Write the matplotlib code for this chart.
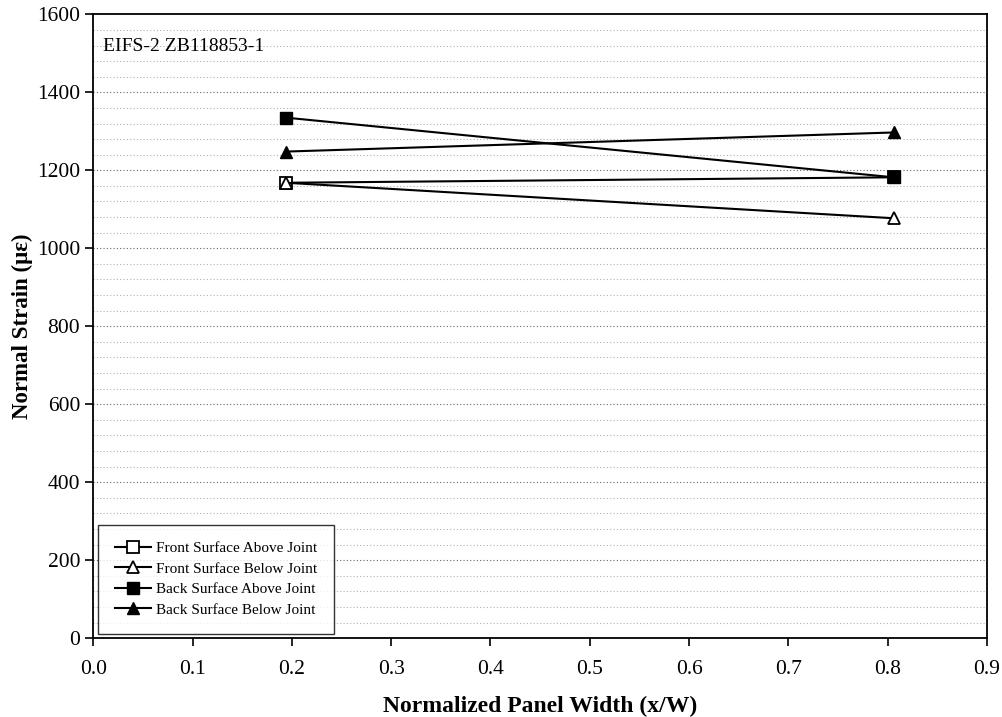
import numpy as np
import matplotlib
matplotlib.use('Agg')
import matplotlib.pyplot as plt

plt.rcParams['font.family'] = ['Liberation Serif', 'DejaVu Serif']

# x/W positions of the gauges
x_pos = [0.194, 0.806]

# strain values (micro strain)
front_above = [1168, 1182]
front_below = [1168, 1077]
back_above = [1335, 1182]
back_below = [1248, 1297]

series_names = ['Front Surface Above Joint', 'Front Surface Below Joint',
                'Back Surface Above Joint', 'Back Surface Below Joint']

fig = plt.figure(figsize=(10.03, 7.17), dpi=100)
ax = fig.add_axes([0.093, 0.110, 0.891, 0.870])

# dotted grid every 40, a bit darker every 200
for yv in np.arange(40, 1600, 40):
    major = (yv % 200 == 0)
    ax.axhline(yv, color='#666666' if major else '#b0b0b0', lw=0.8,
               ls=(0, (1, 2)), zorder=0)

ax.plot(x_pos, front_above, '-', color='black', lw=1.5, marker='s', ms=8,
        mfc='white', mec='black', mew=1.3, label=series_names[0])
ax.plot(x_pos, front_below, '-', color='black', lw=1.5, marker='^', ms=9,
        mfc='white', mec='black', mew=1.3, label=series_names[1])
ax.plot(x_pos, back_above, '-', color='black', lw=1.5, marker='s', ms=8,
        mfc='black', mec='black', label=series_names[2])
ax.plot(x_pos, back_below, '-', color='black', lw=1.5, marker='^', ms=9,
        mfc='black', mec='black', label=series_names[3])

ax.set_xlim(0, 0.9)
ax.set_ylim(0, 1600)
ax.set_xticks(np.arange(0, 0.91, 0.1))
ax.set_xticklabels(['%.1f' % v for v in np.arange(0, 0.91, 0.1)])
ax.set_yticks(np.arange(0, 1601, 200))
ax.tick_params(axis='both', direction='out', length=6, width=1.2,
               labelsize=15.5, colors='black')
ax.tick_params(axis='x', pad=10)

for sp in ax.spines.values():
    sp.set_linewidth(1.3)
    sp.set_color('black')

ax.set_xlabel('Normalized Panel Width (x/W)', fontsize=17, fontweight='bold',
              labelpad=12)
ax.set_ylabel('Normal Strain (\u03bc\u03b5)', fontsize=16.5, fontweight='bold',
              labelpad=2.5)

ax.text(0.011, 0.962, 'EIFS-2 ZB118853-1', transform=ax.transAxes,
        fontsize=14, va='top', ha='left')

leg = ax.legend(loc='lower left', fontsize=11, frameon=True, fancybox=False,
                edgecolor='black', handlelength=2.4, borderpad=1.1,
                labelspacing=0.45, handletextpad=0.3,
                bbox_to_anchor=(0.0, 0.0), borderaxespad=0.3)
leg.get_frame().set_linewidth(1.0)

fig.savefig('out.png', dpi=100)
